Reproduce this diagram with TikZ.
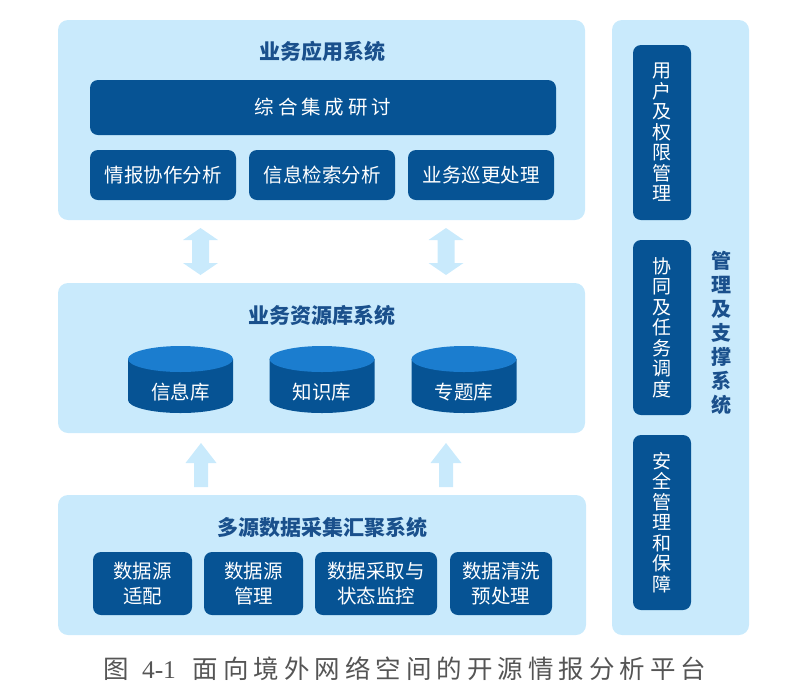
\documentclass[tikz,border=0pt]{standalone}
\usepackage{fontspec}
\setmainfont{Noto Sans CJK SC}
\newfontfamily\latinserif{Liberation Serif}
\usetikzlibrary{shapes.geometric}
\definecolor{panelc}{RGB}{201,234,252}
\definecolor{boxc}{RGB}{6,83,148}
\definecolor{titlec}{RGB}{26,80,140}
\definecolor{cyltop}{RGB}{27,125,207}
\definecolor{capc}{RGB}{85,85,85}
\newcommand\fsz[2]{\fontsize{#1pt}{#2pt}\selectfont}
\newcommand\cgap{\hspace{5pt}}
\newcommand\tgap{\hspace{4pt}}
\begin{document}
\begin{tikzpicture}[x=1pt,y=-1pt,
  panel/.style={fill=panelc, rounded corners=10pt, inner sep=0pt},
  dbox/.style={fill=boxc, rounded corners=8pt, text=white, inner sep=0pt, align=center, font=\fsz{19.5}{25}},
  vbox/.style={fill=boxc, rounded corners=8pt, text=white, inner sep=0pt, align=center, font=\fsz{19}{20.5}, minimum width=58pt, minimum height=175pt},
  ttl/.style={text=titlec, font=\bfseries\fsz{21}{25}, inner sep=0pt},
  arr/.style={fill=panelc, draw=none},
  cyltxt/.style={text=white, font=\fsz{19.5}{25}, inner sep=0pt}
]
\useasboundingbox (0,0) rectangle (810,697);

% panels
\node[panel, minimum width=527pt, minimum height=200pt] (app) at (321.5,120) {};
\node[panel, minimum width=527pt, minimum height=150pt] (res) at (321.5,358) {};
\node[panel, minimum width=528pt, minimum height=140pt] (col) at (322,565) {};
\node[panel, minimum width=137pt, minimum height=615pt] (mgt) at (680.5,327.5) {};

% top panel
\node[ttl] (t1) at (322,51) {业务应用系统};
\node[dbox, minimum width=466pt, minimum height=55pt] (zh) at (323,107.5) {综\tgap 合\tgap 集\tgap 成\tgap 研\tgap 讨};
\node[dbox, minimum width=146pt, minimum height=50pt] (a1) at (163,175) {情报协作分析};
\node[dbox, minimum width=146pt, minimum height=50pt] (a2) at (322,175) {信息检索分析};
\node[dbox, minimum width=146pt, minimum height=50pt] (a3) at (481,175) {业务巡更处理};

% double arrows
\foreach \cx in {200.5,446}{
  \fill[arr] (\cx,228) -- (\cx+17.5,240) -- (\cx+8.5,240) -- (\cx+8.5,263) -- (\cx+17.5,263)
    -- (\cx,275) -- (\cx-17.5,263) -- (\cx-8.5,263) -- (\cx-8.5,240) -- (\cx-17.5,240) -- cycle;
}

% middle panel
\node[ttl] (t2) at (322,315) {业务资源库系统};
\foreach \cx/\nm/\txt in {180.5/c1/信息库, 322/c2/知识库, 464/c3/专题库}{
  \fill[boxc] (\cx-52.5,359) -- (\cx-52.5,400) arc[start angle=180, end angle=360, x radius=52.5, y radius=-13]
     -- (\cx+52.5,359) -- cycle;
  \fill[cyltop] (\cx,359) ellipse [x radius=52.5, y radius=13];
  \node[cyltxt] (\nm) at (\cx,392) {\txt};
}

% up arrows
\foreach \cx in {201,446}{
  \fill[arr] (\cx,443) -- (\cx+15.5,463) -- (\cx+7,463) -- (\cx+7,487) -- (\cx-7,487)
    -- (\cx-7,463) -- (\cx-15.5,463) -- cycle;
}

% bottom panel
\node[ttl] (t3) at (322,527) {多源数据采集汇聚系统};
\node[dbox, minimum width=99pt, minimum height=63pt] (b1) at (142.5,583.5) {数据源\\适配};
\node[dbox, minimum width=99pt, minimum height=63pt] (b2) at (253.5,583.5) {数据源\\管理};
\node[dbox, minimum width=122pt, minimum height=63pt] (b3) at (376,583.5) {数据采取与\\状态监控};
\node[dbox, minimum width=102pt, minimum height=63pt] (b4) at (501,583.5) {数据清洗\\预处理};

% right panel
\node[vbox] (r1) at (662,132.5) {用\\户\\及\\权\\限\\管\\理};
\node[vbox] (r2) at (662,327.5) {协\\同\\及\\任\\务\\调\\度};
\node[vbox] (r3) at (662,522.5) {安\\全\\管\\理\\和\\保\\障};
\node[ttl, align=center, font=\bfseries\fsz{20}{24}] (t4) at (721,333) {管\\理\\及\\支\\撑\\系\\统};

% caption
\node[text=capc, inner sep=0pt, font=\fsz{25.5}{30}] (cap) at (405,669)
  {图\hspace{13pt}{\latinserif 4-1}\hspace{17pt}面\cgap 向\cgap 境\cgap 外\cgap 网\cgap 络\cgap 空\cgap 间\cgap 的\cgap 开\cgap 源\cgap 情\cgap 报\cgap 分\cgap 析\cgap 平\cgap 台};
\end{tikzpicture}
\end{document}
